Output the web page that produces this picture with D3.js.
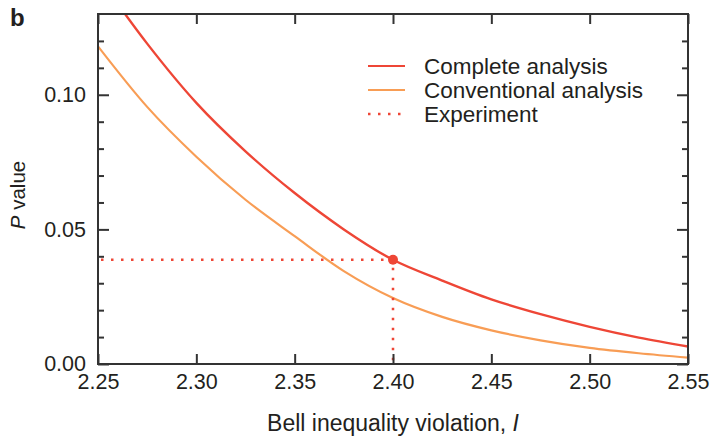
<!DOCTYPE html>
<html>
<head>
<meta charset="utf-8">
<script src="https://cdn.jsdelivr.net/npm/d3@7"></script>
<style>
  body { margin: 0; background: #fff; }
  svg { display: block; font-family: "Liberation Sans", Arial, Helvetica, sans-serif; }
  .tick text { fill: #231f20; }
</style>
</head>
<body>
<svg id="chart" width="714" height="437"></svg>
<script>
// Bell inequality violation I (x) against P value (y)
const violation = [2.25, 2.275, 2.30, 2.325, 2.35, 2.375, 2.40, 2.425, 2.45, 2.475, 2.50, 2.525, 2.55];
const completeP = [0.144, 0.119, 0.097, 0.079, 0.0635, 0.050, 0.0387, 0.031, 0.024, 0.0185, 0.0138, 0.0098, 0.0065];
const conventionalP = [0.118, 0.0955, 0.077, 0.061, 0.0475, 0.0345, 0.0245, 0.0175, 0.0125, 0.0088, 0.006, 0.004, 0.0024];

// measured experiment
const experimentI = 2.40;
const experimentP = 0.0387;

const xTicks = [2.25, 2.30, 2.35, 2.40, 2.45, 2.50, 2.55];
const yTicks = [0.00, 0.05, 0.10];
const yMinorTicks = [0.01, 0.02, 0.03, 0.04, 0.06, 0.07, 0.08, 0.09, 0.11, 0.12];

const legendLabels = ["Complete analysis", "Conventional analysis", "Experiment"];

const red = "#ee4636";
const orange = "#f89d55";
const ink = "#231f20";

const margin = { top: 14, right: 26, bottom: 73, left: 98 };
const W = 714, H = 437;
const width = W - margin.left - margin.right;
const height = H - margin.top - margin.bottom;

const svg = d3.select("#chart");

const x = d3.scaleLinear().domain([2.25, 2.55]).range([margin.left, margin.left + width]);
const y = d3.scaleLinear().domain([0, 0.13]).range([margin.top + height, margin.top]);

svg.append("defs").append("clipPath").attr("id", "plot")
  .append("rect")
    .attr("x", margin.left).attr("y", margin.top)
    .attr("width", width).attr("height", height);

// curves
const line = d3.line().x(d => x(d[0])).y(d => y(d[1])).curve(d3.curveMonotoneX);

svg.append("path")
    .datum(d3.zip(violation, conventionalP))
    .attr("clip-path", "url(#plot)")
    .attr("fill", "none")
    .attr("stroke", orange)
    .attr("stroke-width", 2.2)
    .attr("d", line);

svg.append("path")
    .datum(d3.zip(violation, completeP))
    .attr("clip-path", "url(#plot)")
    .attr("fill", "none")
    .attr("stroke", red)
    .attr("stroke-width", 2.4)
    .attr("d", line);

// experiment guides
svg.append("path")
    .attr("fill", "none")
    .attr("stroke", red)
    .attr("stroke-width", 2.5)
    .attr("stroke-dasharray", "2.5,7.5")
    .attr("d", `M${x(2.25) + 3},${y(experimentP)}H${x(experimentI)}V${y(0)}`);

svg.append("circle")
    .attr("cx", x(experimentI))
    .attr("cy", y(experimentP))
    .attr("r", 5)
    .attr("fill", red);

// axes, ticks inward
const fs = "21.5px";

svg.append("g")
    .attr("transform", `translate(0,${y(0)})`)
    .call(d3.axisBottom(x).tickValues(xTicks).tickFormat(d3.format(".2f")).tickSize(-10).tickPadding(10))
    .call(g => g.select(".domain").remove())
    .call(g => g.selectAll("line").attr("stroke", "#333").attr("stroke-width", 2))
    .call(g => g.selectAll("text").attr("font-size", fs));

svg.append("g")
    .attr("transform", `translate(0,${margin.top})`)
    .call(d3.axisTop(x).tickValues(xTicks).tickFormat("").tickSize(-10))
    .call(g => g.select(".domain").remove())
    .call(g => g.selectAll("line").attr("stroke", "#333").attr("stroke-width", 2));

svg.append("g")
    .attr("transform", `translate(${margin.left},0)`)
    .call(d3.axisLeft(y).tickValues(yTicks).tickFormat(d3.format(".2f")).tickSize(-11).tickPadding(12))
    .call(g => g.select(".domain").remove())
    .call(g => g.selectAll("line").attr("stroke", "#333").attr("stroke-width", 2))
    .call(g => g.selectAll("text").attr("font-size", fs));

svg.append("g")
    .attr("transform", `translate(${margin.left},0)`)
    .call(d3.axisLeft(y).tickValues(yMinorTicks).tickFormat("").tickSize(-6))
    .call(g => g.select(".domain").remove())
    .call(g => g.selectAll("line").attr("stroke", "#333").attr("stroke-width", 2));

svg.append("g")
    .attr("transform", `translate(${margin.left + width},0)`)
    .call(d3.axisRight(y).tickValues(yTicks).tickFormat("").tickSize(-11))
    .call(g => g.select(".domain").remove())
    .call(g => g.selectAll("line").attr("stroke", "#333").attr("stroke-width", 2));

svg.append("g")
    .attr("transform", `translate(${margin.left + width},0)`)
    .call(d3.axisRight(y).tickValues(yMinorTicks).tickFormat("").tickSize(-6))
    .call(g => g.select(".domain").remove())
    .call(g => g.selectAll("line").attr("stroke", "#333").attr("stroke-width", 2));

// frame
svg.append("rect")
    .attr("x", margin.left).attr("y", margin.top)
    .attr("width", width).attr("height", height)
    .attr("fill", "none")
    .attr("stroke", "#333")
    .attr("stroke-width", 2);

// axis titles
svg.append("text")
    .attr("x", margin.left + width / 2)
    .attr("y", 431)
    .attr("text-anchor", "middle")
    .attr("font-size", "23px")
    .attr("fill", ink)
    .text("Bell inequality violation, ")
  .append("tspan")
    .attr("font-style", "italic")
    .text("I");

const yt = svg.append("text")
    .attr("transform", "translate(25,195) rotate(-90)")
    .attr("text-anchor", "middle")
    .attr("font-size", "20.5px")
    .attr("fill", ink);
yt.append("tspan").attr("font-style", "italic").text("P");
yt.append("tspan").text(" value");

// panel letter
svg.append("text")
    .attr("x", 10)
    .attr("y", 26)
    .attr("font-size", "24px")
    .attr("font-weight", "bold")
    .attr("fill", ink)
    .text("b");

// legend
const legendColors = [red, orange, red];
const legendDash = [null, null, "2.5,7.5"];
const lg = svg.append("g").attr("transform", "translate(368,66)");
legendLabels.forEach((label, i) => {
  const row = lg.append("g").attr("transform", `translate(0,${i * 24})`);
  row.append("line")
      .attr("x1", 0).attr("x2", 37)
      .attr("stroke", legendColors[i])
      .attr("stroke-width", legendDash[i] ? 2.5 : 2.2)
      .attr("stroke-dasharray", legendDash[i]);
  row.append("text")
      .attr("x", 56)
      .attr("dy", "0.35em")
      .attr("font-size", "22.5px")
      .attr("fill", ink)
      .text(label);
});
</script>
</body>
</html>
